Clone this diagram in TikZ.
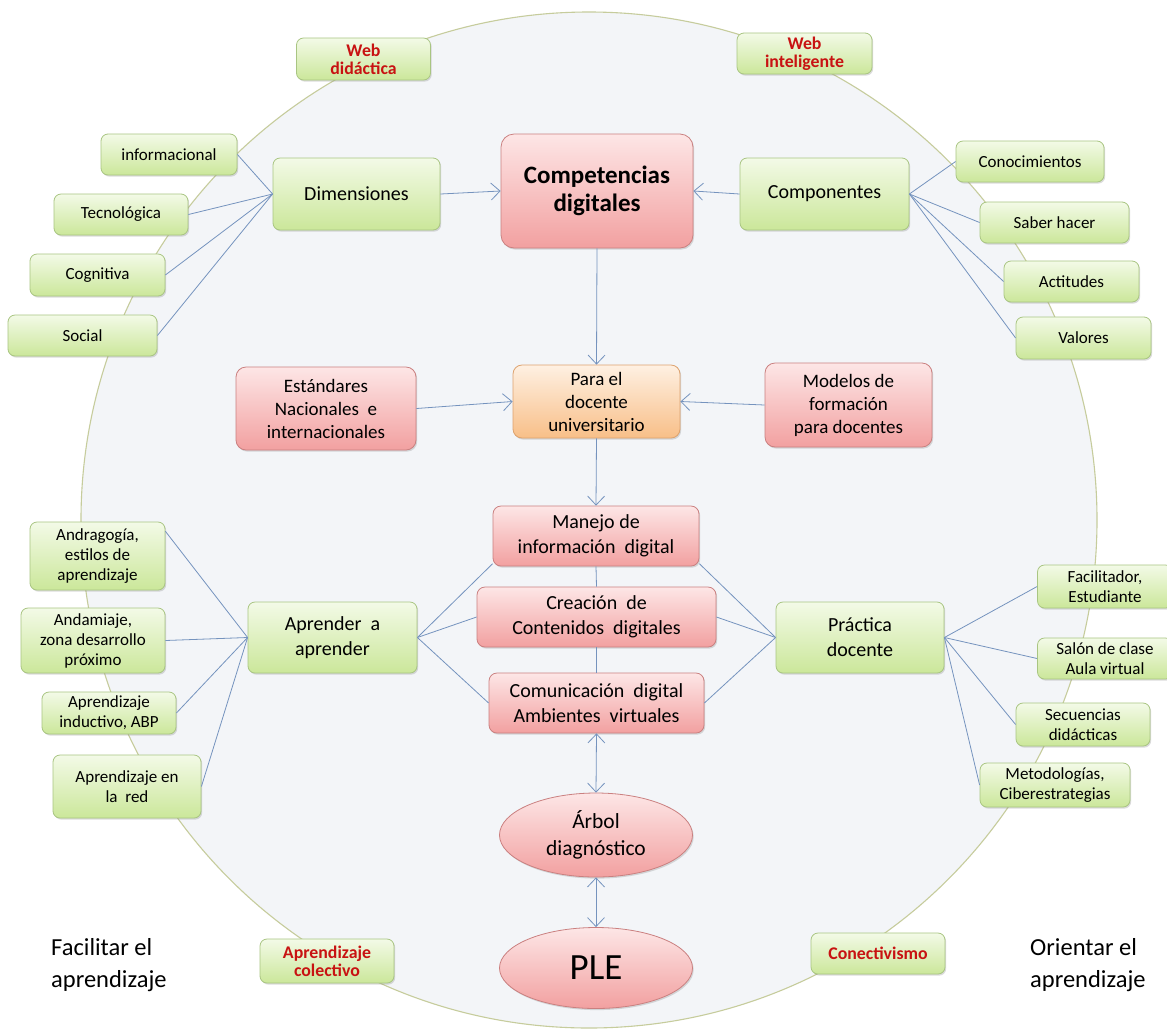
\documentclass[tikz,border=0pt]{standalone}
\usepackage{fontspec}
\setmainfont{Carlito}
\usetikzlibrary{shapes.geometric,arrows.meta,shadows}
\definecolor{gtop}{HTML}{F3FAE7}
\definecolor{gbot}{HTML}{CBE79A}
\definecolor{gline}{HTML}{A9C582}
\definecolor{rtop}{HTML}{FDE6E6}
\definecolor{rbot}{HTML}{F2A0A0}
\definecolor{rline}{HTML}{CA8080}
\definecolor{otop}{HTML}{FEF0E2}
\definecolor{obot}{HTML}{F8BF88}
\definecolor{oline}{HTML}{DDA26E}
\definecolor{lnk}{HTML}{7593BE}
\definecolor{circfill}{HTML}{F3F5F8}
\definecolor{circline}{HTML}{C6CC9C}
\definecolor{lbl}{HTML}{C81212}
\tikzset{
  base/.style={inner sep=0pt, align=center, text=black,
    drop shadow={shadow xshift=1.2pt,shadow yshift=-1.6pt,opacity=0.28}},
  wh/.style 2 args={minimum width=#1pt, minimum height=#2pt},
  gbox/.style={base, rounded corners=7pt, draw=gline, line width=0.8pt, top color=gtop, bottom color=gbot},
  rbox/.style={base, rounded corners=10pt, draw=rline, line width=0.8pt, top color=rtop, bottom color=rbot},
  obox/.style={base, rounded corners=9pt, draw=oline, line width=0.8pt, top color=otop, bottom color=obot},
  rell/.style={base, ellipse, draw=rline, line width=0.8pt, top color=rtop, bottom color=rbot},
  fsmall/.style={font=\fontsize{17}{20}\selectfont},
  fmain/.style={font=\fontsize{20}{25}\selectfont},
  fmid/.style={font=\fontsize{19}{23}\selectfont},
  flbl/.style={font=\bfseries\fontsize{17.8}{18}\selectfont, text=lbl},
  fbig/.style={font=\bfseries\fontsize{25}{28}\selectfont},
  fside/.style={font=\fontsize{24.5}{32}\selectfont, align=left, inner sep=0pt},
  lnkline/.style={draw=lnk, line width=0.8pt},
  tipb/.tip={Straight Barb[length=9pt,width=17pt,line width=0.8pt]},
  arr/.style={lnkline, -tipb},
  darr/.style={lnkline, tipb-tipb},
}
\begin{document}
\begin{tikzpicture}[x=1pt,y=-1pt]
\useasboundingbox[fill=white] (0,0) rectangle (1167,1029);
% big circle
\draw[fill=circfill, draw=circline, line width=1.1pt] (589,520) circle[radius=508pt];

% top labels
\node[gbox, wh={134}{42}, flbl] (webdid) at (363.5,59) {Web\\didáctica};
\node[gbox, wh={135}{41}, flbl] (webint) at (804.5,53.5) {Web\\inteligente};

% dimensiones
\node[gbox, wh={136}{41}, fsmall] (info) at (169,154.5) {informacional};
\node[gbox, wh={134}{41}, fsmall] (tecno) at (121,214.5) {Tecnológica};
\node[gbox, wh={135}{42}, fsmall] (cogn) at (97.5,275) {Cognitiva};
\node[gbox, wh={149}{41}, fsmall] (social) at (82.5,335.5) {Social};
\node[gbox, wh={167}{72}, fmain] (dim) at (356.5,194) {Dimensiones};

\node[rbox, rounded corners=13pt, wh={192}{114}, fbig] (comp) at (597,191) {Competencias\\digitales};

\node[gbox, wh={169}{72}, fmain] (compo) at (824.5,194) {Componentes};
\node[gbox, wh={148}{41}, fsmall] (conoc) at (1030,161.5) {Conocimientos};
\node[gbox, wh={149}{41}, fsmall] (saber) at (1054.5,222.5) {Saber hacer};
\node[gbox, wh={135}{41}, fsmall] (actit) at (1071.5,281.5) {Actitudes};
\node[gbox, wh={135}{42}, fsmall] (valor) at (1083.5,338) {Valores};

% middle row
\node[rbox, wh={180}{83}, fmid] (estand) at (326,408.5) {Estándares\\Nacionales\ \ e\\internacionales};
\node[obox, wh={167}{73}, fmid] (para) at (596.5,401.5) {Para el\\docente\\universitario};
\node[rbox, wh={167}{84}, fmid] (model) at (848.5,405) {Modelos de\\formación\\para docentes};

% central stack
\node[rbox, rounded corners=8pt, wh={206}{60}, fmain] (manejo) at (596,536) {Manejo de\\información\ \ digital};
\node[rbox, rounded corners=8pt, wh={239}{60}, fmain] (creac) at (596.5,617) {Creación\ \ de\\Contenidos\ \ digitales};
\node[rbox, rounded corners=8pt, wh={215}{60}, fmain] (comun) at (596.5,703) {Comunicación\ \ digital\\Ambientes\ \ virtuales};

% aprender
\node[gbox, wh={169}{71}, fmain] (apren) at (332.5,637.5) {Aprender\ \ a\\aprender};
\node[gbox, wh={135}{68}, fsmall] (andra) at (97.5,556) {Andragogía,\\estilos de\\aprendizaje};
\node[gbox, wh={144}{65}, fsmall] (andam) at (93,640.5) {Andamiaje,\\zona desarrollo\\próximo};
\node[gbox, wh={134}{42}, fsmall] (induc) at (109,713) {Aprendizaje\\inductivo, ABP};
\node[gbox, wh={148}{63}, fsmall] (enred) at (127,786.5) {Aprendizaje en\\la\ \ red};

% practica
\node[gbox, wh={168}{71}, fmain] (pract) at (860,637.5) {Práctica\\docente};
\node[gbox, wh={135}{43}, fsmall] (facil) at (1105,586.5) {Facilitador,\\Estudiante};
\node[gbox, wh={135}{41}, fsmall] (salon) at (1105,658.5) {Salón de clase\\Aula virtual};
\node[gbox, wh={134}{43}, fsmall] (secue) at (1083,724.5) {Secuencias\\didácticas};
\node[gbox, wh={150}{44}, fsmall] (metod) at (1055,785) {Metodologías,\\Ciberestrategias};

% ellipses
\node[rell, wh={193}{84}, font=\fontsize{21.5}{27}\selectfont] (arbol) at (596,835) {Árbol\\diagnóstico};
\node[rell, wh={193}{81}, font=\fontsize{37}{40}\selectfont] (ple) at (596,968) {PLE};

% bottom labels
\node[gbox, wh={134}{44}, flbl] (aprcol) at (327,961) {Aprendizaje\\colectivo};
\node[gbox, wh={134}{41}, flbl] (conect) at (878,953.5) {Conectivismo};
\node[fside, anchor=west] (facilitar) at (51,965) {Facilitar el\\aprendizaje};
\node[fside, anchor=west] (orientar) at (1030,965) {Orientar el\\aprendizaje};

% connectors
\foreach \n in {info,tecno,cogn,social} \draw[lnkline] (\n.east) -- (dim.west);
\foreach \n in {conoc,saber,actit,valor} \draw[lnkline] (compo.east) -- (\n.west);
\draw[arr] (dim.east) -- (comp.west);
\draw[arr] (compo.west) -- (comp.east);
\draw[arr] (comp.south) -- (para.north);
\draw[arr] (estand.east) -- (para.west);
\draw[arr] (model.west) -- (para.east);
\draw[arr] (para.south) -- (manejo.north);
\draw[lnkline] (manejo.south) -- (creac.north);
\draw[lnkline] (creac.south) -- (comun.north);
\draw[lnkline] (andra.20) -- (apren.west);
\foreach \n in {andam,induc,enred} \draw[lnkline] (\n.east) -- (apren.west);
\draw[lnkline] (apren.east) -- (manejo.195);
\draw[lnkline] (apren.east) -- (creac.west);
\draw[lnkline] (apren.east) -- (comun.west);
\draw[lnkline] (pract.west) -- (manejo.-15);
\draw[lnkline] (pract.west) -- (creac.east);
\draw[lnkline] (pract.west) -- (comun.east);
\foreach \n in {facil,salon,secue,metod} \draw[lnkline] (pract.east) -- (\n.west);
\draw[darr] (comun.south) -- (arbol.north);
\draw[darr] (arbol.south) -- (ple.north);
\end{tikzpicture}
\end{document}
